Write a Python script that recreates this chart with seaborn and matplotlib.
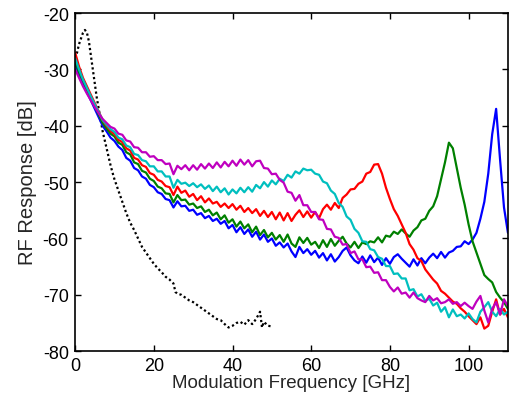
import numpy as np
import matplotlib
matplotlib.use("Agg")
import matplotlib.pyplot as plt
import seaborn as sns

# frequency grids [GHz]
freq = np.arange(0, 111, 1.0)
freq_ref = [0, 0.5, 1, 1.5, 2, 2.5, 3, 3.5, 4, 4.5, 5, 5.5, 6, 6.5, 7, 7.5, 8, 8.5, 9, 9.5,
            10, 11, 12, 13, 14, 15, 16, 17, 18, 19, 20, 21, 22, 23, 24, 25, 25.5, 26, 27, 28,
            29, 30, 31, 32, 33, 34, 35, 36, 37, 38, 39, 40, 41, 42, 43, 44, 45, 46, 47, 47.5,
            48, 49, 50]

# black dotted reference response [dB]
ref = [-28, -27, -25.5, -24.5, -23.5, -23, -23.5, -25, -27.5, -30, -32.5, -35, -37, -39, -41,
       -42.5, -44, -45.5, -47, -48.3, -49.5, -51.5, -53.5, -55.5, -57.2, -58.5, -60, -61.5,
       -62.5, -63.5, -64.5, -65.3, -66, -66.8, -67.3, -68, -69.5, -69.8, -70, -70.5, -71,
       -71.3, -71.8, -72.3, -72.8, -73.3, -73.8, -74.3, -74.5, -75.2, -75.8, -75.5, -75.0,
       -74.8, -75.3, -74.5, -75.2, -74.3, -73.0, -75.8, -74.8, -75.5, -75.6]

blue = [-29.0, -31.0, -32.5, -34.0, -35.5, -37.0, -38.5, -40.0, -41.0, -42.1,
        -42.7, -43.7, -44.3, -45.7, -46.2, -47.5, -47.9, -49.0, -49.4, -50.5,
        -50.9, -51.8, -52.1, -53.0, -53.2, -54.5, -53.4, -54.3, -54.2, -55.1,
        -54.9, -55.8, -55.5, -56.4, -56.0, -56.9, -56.5, -57.4, -56.9, -58.2,
        -57.6, -58.9, -58.0, -59.2, -58.4, -59.7, -58.8, -60.2, -59.3, -60.6,
        -60.0, -61.3, -60.7, -61.6, -60.9, -62.3, -63.3, -61.5, -62.6, -61.9,
        -62.9, -62.2, -63.4, -62.6, -63.9, -62.8, -64.1, -63.3, -62.2, -61.6,
        -63.0, -63.9, -64.4, -63.2, -64.3, -63.0, -64.2, -63.4, -64.7, -63.5,
        -64.5, -63.3, -62.8, -63.6, -64.3, -65.0, -63.7, -64.8, -63.5, -64.4,
        -63.4, -62.7, -63.5, -62.4, -63.4, -62.5, -62.2, -61.5, -61.4, -60.5,
        -61.0, -60.2, -59.0, -56.5, -53.5, -48.5, -41.5, -37.0, -46.0, -54.5,
        -59.0]

green = [-28.5, -30.5, -32.0, -33.5, -35.0, -36.5, -38.0, -39.5, -40.5, -41.4,
         -41.9, -43.0, -43.4, -44.7, -45.1, -46.5, -46.8, -48.0, -48.3, -49.4,
         -49.8, -50.8, -51.1, -52.0, -52.1, -53.6, -52.3, -53.2, -53.1, -54.0,
         -53.8, -54.6, -54.3, -55.3, -54.9, -55.9, -55.4, -56.6, -55.9, -57.2,
         -56.6, -57.9, -57.0, -58.2, -57.5, -58.9, -57.9, -59.4, -58.5, -59.8,
         -59.0, -60.2, -59.4, -60.6, -59.3, -60.9, -61.5, -59.8, -60.8, -59.9,
         -61.1, -60.6, -61.7, -60.3, -61.5, -60.1, -61.3, -60.4, -59.7, -60.9,
         -61.6, -60.6, -61.7, -60.7, -61.0, -60.5, -60.7, -59.8, -60.7, -59.5,
         -59.7, -58.8, -59.2, -58.4, -59.1, -59.7, -58.6, -58.0, -56.8, -56.5,
         -55.1, -54.3, -52.5, -49.5, -46.5, -43.0, -44.0, -47.5, -51.0, -54.0,
         -57.5, -60.5, -62.5, -64.5, -66.5, -67.2, -67.8, -69.5, -70.5, -71.3,
         -72.5]

red = [-27.0, -29.5, -31.5, -33.0, -34.5, -36.0, -37.5, -39.0, -40.0, -40.9,
       -41.5, -42.5, -42.9, -44.0, -44.4, -45.7, -46.0, -47.0, -47.3, -48.4,
       -48.7, -49.6, -49.9, -50.7, -50.9, -52.3, -50.8, -51.9, -51.5, -52.6,
       -52.1, -53.2, -52.5, -53.6, -52.9, -53.8, -53.5, -54.4, -53.8, -54.6,
       -53.9, -54.9, -54.2, -55.3, -54.6, -55.5, -54.8, -56.0, -55.1, -56.2,
       -55.3, -56.6, -55.4, -56.8, -55.5, -56.9, -55.8, -55.0, -56.2, -55.2,
       -56.3, -55.3, -56.4, -54.8, -54.0, -54.9, -53.7, -54.6, -52.8, -52.2,
       -51.3, -51.2, -50.3, -49.9, -48.5, -48.2, -46.9, -46.8, -48.5, -51.0,
       -53.0, -54.8, -56.0, -57.5, -59.0, -61.0, -62.0, -63.5, -64.0, -65.5,
       -66.4, -67.3, -68.0, -69.3, -69.8, -70.5, -71.2, -71.6, -72.4, -73.0,
       -73.8, -74.5, -75.2, -74.0, -76.0, -75.5, -73.0, -70.8, -73.5, -72.5,
       -74.0]

cyan = [-28.0, -30.0, -31.8, -33.3, -34.8, -36.2, -37.6, -39.0, -39.8, -40.6,
        -41.1, -42.1, -42.4, -43.5, -43.8, -45.0, -45.2, -46.1, -46.3, -47.2,
        -47.2, -48.1, -48.1, -49.0, -49.0, -51.0, -49.6, -50.3, -50.1, -50.7,
        -50.2, -50.9, -50.4, -51.2, -50.6, -51.6, -50.8, -51.8, -51.1, -52.2,
        -51.3, -52.0, -51.0, -51.8, -50.9, -51.7, -50.5, -51.1, -50.0, -50.8,
        -49.7, -50.4, -49.4, -49.8, -48.7, -49.2, -48.1, -48.5, -47.6, -47.9,
        -47.8, -48.5, -48.7, -49.9, -50.2, -51.5, -52.1, -53.7, -54.4, -56.1,
        -56.7, -58.3, -59.0, -60.5, -60.6, -61.9, -62.1, -63.3, -63.6, -64.9,
        -64.9, -66.3, -66.2, -67.1, -67.1, -69.2, -69.0, -70.3, -69.9, -71.1,
        -70.7, -71.9, -71.4, -73.0, -72.2, -74.0, -72.6, -73.8, -73.5, -74.2,
        -73.3, -74.3, -74.9, -73.0, -72.2, -71.3, -73.0, -73.8, -72.5, -73.5,
        -73.0]

magenta = [-30.0, -31.5, -33.0, -34.3, -35.5, -36.7, -37.8, -38.8, -39.5, -40.2,
           -40.5, -41.4, -41.6, -42.6, -42.8, -43.8, -43.9, -44.7, -44.7, -45.5,
           -45.4, -46.1, -46.1, -46.8, -46.7, -48.6, -47.1, -47.7, -47.0, -47.9,
           -47.0, -47.8, -46.8, -47.6, -46.7, -47.5, -46.5, -47.4, -46.4, -47.2,
           -46.2, -47.1, -46.0, -46.9, -46.1, -47.2, -46.3, -46.2, -47.5, -47.6,
           -48.6, -48.5, -49.6, -50.1, -51.7, -51.9, -53.3, -52.3, -54.1, -54.1,
           -55.3, -55.3, -56.6, -56.7, -58.3, -58.4, -59.7, -59.9, -61.1, -61.0,
           -62.6, -62.3, -63.7, -63.7, -65.1, -65.0, -66.1, -66.0, -67.4, -67.4,
           -68.6, -69.4, -68.7, -69.8, -69.6, -70.5, -69.6, -70.6, -71.0, -71.3,
           -70.2, -71.0, -70.6, -71.5, -71.3, -70.8, -71.6, -71.3, -72.0, -71.4,
           -72.0, -72.5, -71.2, -70.2, -72.8, -74.9, -72.5, -71.3, -73.5, -70.8,
           -72.0]

sns.set_style("ticks")
plt.rcParams['font.family'] = ['Liberation Sans', 'DejaVu Sans']
plt.rcParams['axes.unicode_minus'] = False

fig = plt.figure(figsize=(5.11, 4.02), dpi=100)
ax = fig.add_axes([0.147, 0.124, 0.847, 0.841])

sns.lineplot(x=freq_ref, y=ref, color='black', linestyle=(0, (1, 1.2)), linewidth=1.6, ax=ax)
curves = [(blue, '#0000ff'), (green, '#008000'), (red, '#ff0000'),
          (cyan, '#00bfbf'), (magenta, '#bf00bf')]
for vals, col in curves:
    sns.lineplot(x=freq, y=vals, color=col, linewidth=1.6, ax=ax)

ax.set_xlim(0, 110)
ax.set_ylim(-80, -20)
ax.set_xticks(range(0, 101, 20))
ax.set_yticks(range(-80, -19, 10))
ax.set_xlabel("Modulation Frequency [GHz]", fontsize=13.5, labelpad=0)
ax.set_ylabel("RF Response [dB]", fontsize=14.5, labelpad=4)
ax.tick_params(direction='in', length=4, width=1, top=True, right=True,
               labelsize=13, pad=4.5, color='black', labelcolor='black')
for s in ax.spines.values():
    s.set_visible(True)
    s.set_linewidth(1.2)
    s.set_color('black')

fig.savefig("out.png", dpi=100)
